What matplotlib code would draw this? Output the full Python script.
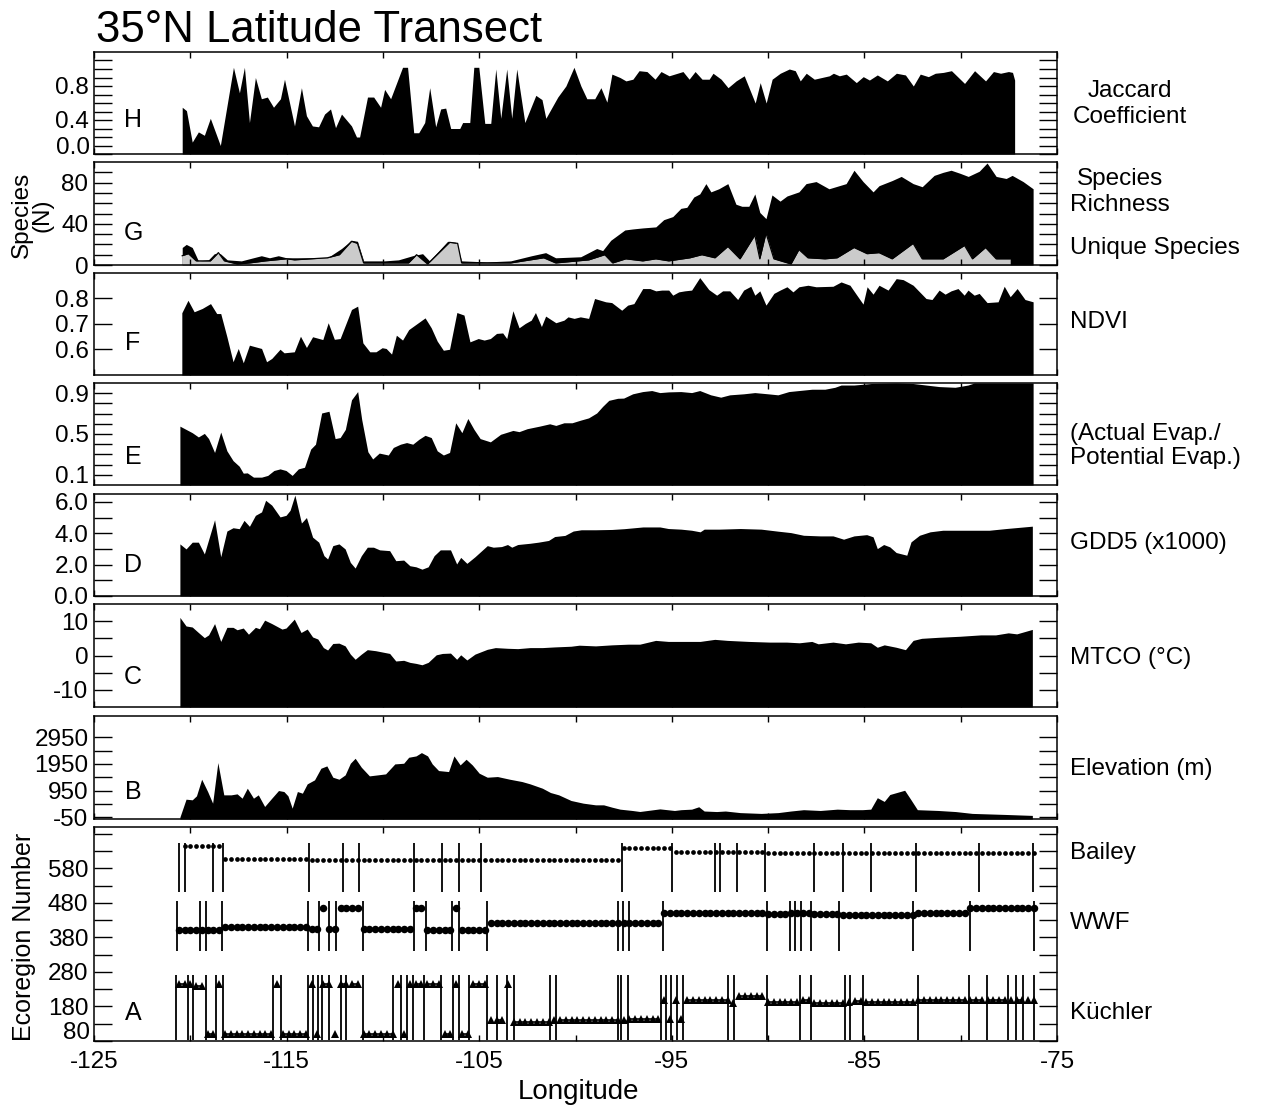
import numpy as np
import matplotlib
matplotlib.use("Agg")
import matplotlib.pyplot as plt
from matplotlib.ticker import FixedLocator, FormatStrFormatter, FuncFormatter
from matplotlib.transforms import blended_transform_factory, offset_copy

plt.rcParams["font.family"] = ["Liberation Sans", "DejaVu Sans"]
plt.rcParams["axes.unicode_minus"] = False

# ---------------- data ----------------
# H: Jaccard coefficient
H_LON = [-120.42, -120.2, -119.9, -119.58, -119.27, -118.96, -118.44, -117.76, -117.45, -117.19,
         -116.93, -116.62, -116.31, -116.0, -115.68, -115.32, -115.11, -114.59, -114.23, -113.97,
         -113.66, -113.34, -113.03, -112.72, -112.46, -112.15, -111.63, -111.37, -111.21, -110.8,
         -110.48, -110.12, -109.91, -109.6, -108.98, -108.72, -108.4, -108.14, -107.83, -107.57,
         -107.26, -107.0, -106.74, -106.48, -106.01, -105.86, -105.49, -105.28, -105.02, -104.71,
         -104.4, -104.14, -103.88, -103.57, -103.31, -103.05, -102.63, -102.06, -101.74, -101.54,
         -100.92, -100.5, -100.08, -99.72, -99.41, -99.0, -98.68, -98.37, -98.11, -97.69,
         -97.38, -97.02, -96.7, -96.29, -95.87, -95.56, -95.14, -94.42, -94.1, -93.79,
         -93.43, -93.06, -92.86, -92.44, -92.08, -91.66, -91.24, -90.67, -90.41, -90.1,
         -89.79, -89.37, -88.9, -88.59, -88.33, -88.02, -87.6, -86.82, -86.61, -86.3,
         -85.94, -85.42, -85.06, -84.74, -84.33, -83.81, -83.34, -82.87, -82.46, -82.1,
         -81.68, -81.32, -80.9, -80.48, -79.8, -79.28, -78.71, -78.3, -77.93, -77.52,
         -77.31, -77.2]
H_VAL = [0.55, 0.51, 0.14, 0.26, 0.22, 0.42, 0.10, 1.02, 0.72, 1.02,
         0.37, 0.90, 0.65, 0.67, 0.55, 0.65, 0.88, 0.33, 0.78, 0.45,
         0.33, 0.32, 0.47, 0.53, 0.31, 0.47, 0.33, 0.20, 0.20, 0.67,
         0.67, 0.55, 0.76, 0.65, 1.02, 1.02, 0.25, 0.25, 0.37, 0.78,
         0.32, 0.53, 0.54, 0.30, 0.30, 0.37, 0.37, 1.02, 1.02, 0.36,
         0.36, 1.00, 0.42, 1.00, 0.42, 1.00, 0.37, 0.69, 0.64, 0.42,
         0.67, 0.80, 1.02, 0.80, 0.65, 0.65, 0.78, 0.61, 0.94, 0.90,
         0.86, 0.88, 0.98, 0.97, 0.88, 0.97, 0.92, 0.97, 0.88, 0.97,
         0.88, 0.88, 0.95, 0.88, 0.78, 0.86, 0.92, 0.60, 0.84, 0.60,
         0.88, 0.95, 1.00, 0.98, 0.86, 0.95, 0.88, 0.92, 0.95, 0.92,
         0.94, 0.84, 0.91, 0.87, 0.93, 0.86, 0.95, 0.93, 0.80, 0.94,
         0.91, 0.95, 0.96, 0.98, 0.83, 0.98, 0.86, 0.97, 0.95, 0.97,
         0.96, 0.87]

# G: species richness (black) and unique species (grey)
RICH_LON = [-120.42, -120.21, -119.9, -119.58, -119.06, -118.75, -118.44, -118.08, -117.35, -116.73,
            -116.31, -115.89, -115.43, -115.01, -113.76, -112.88, -112.15, -111.63, -111.32, -111.0,
            -109.92, -109.19, -108.46, -107.94, -107.58, -106.64, -106.23, -105.91, -104.61, -103.37,
            -102.28, -101.55, -101.03, -99.73, -98.9, -98.59, -98.17, -97.44, -97.03, -96.51,
            -95.83, -95.42, -94.95, -94.53, -94.22, -93.86, -93.55, -93.23, -92.97, -92.56,
            -92.09, -91.67, -91.36, -91.0, -90.69, -90.43, -90.11, -89.8, -89.38, -89.02,
            -88.4, -88.03, -87.51, -86.84, -85.95, -85.54, -85.07, -84.55, -84.24, -83.56,
            -83.09, -82.47, -82.0, -81.38, -80.91, -80.5, -80.03, -79.61, -79.04, -78.63,
            -78.16, -77.64, -77.33, -76.76, -76.24]
RICH_VAL = [17, 20, 17, 4, 5, 11, 11, 5, 4, 7,
            9, 7, 9, 7, 7, 7, 16, 24, 23, 4,
            4, 5, 9, 11, 4, 23, 22, 4, 3, 4,
            9, 12, 7, 8, 16, 14, 24, 34, 35, 36,
            37, 44, 47, 55, 56, 66, 69, 79, 71, 74,
            79, 59, 57, 57, 69, 51, 45, 68, 62, 67,
            71, 79, 81, 74, 79, 92, 81, 71, 77, 82,
            86, 79, 76, 87, 90, 92, 89, 86, 91, 99,
            86, 84, 87, 81, 74]
UNIQ_LON = [-120.42, -120.1, -119.69, -118.96, -118.54, -118.23, -117.56, -116.93, -116.1, -115.01,
            -114.59, -112.88, -112.26, -111.63, -111.32, -111.0, -108.67, -108.25, -107.68, -106.54,
            -106.12, -105.91, -103.37, -101.65, -101.03, -99.31, -98.48, -98.07, -97.39, -96.51,
            -95.83, -95.16, -94.06, -93.44, -92.76, -92.09, -91.46, -90.69, -90.43, -90.11,
            -89.7, -88.81, -88.4, -87.93, -87.05, -86.42, -85.54, -84.86, -84.24, -83.56,
            -82.47, -82.0, -80.91, -79.8, -79.39, -78.71, -78.16, -77.43]
UNIQ_VAL = [9, 11, 4, 4, 12, 4, 1, 2, 4, 6,
            5, 7, 10, 23, 21, 2, 2, 10, 1, 22,
            21, 2, 2, 7, 2, 5, 10, 2, 6, 4,
            6, 4, 7, 10, 7, 18, 6, 29, 6, 31,
            6, 1, 15, 7, 6, 7, 17, 11, 12, 6,
            21, 6, 6, 19, 6, 17, 6, 6]

# F: NDVI
F_LON = [-120.44, -120.12, -119.8, -119.38, -118.95, -118.63, -118.42, -118.1, -117.78, -117.51,
         -117.25, -116.93, -116.3, -116.04, -115.77, -115.34, -115.13, -114.6, -114.28, -113.97,
         -113.65, -113.12, -112.84, -112.52, -112.22, -111.63, -111.31, -111.04, -110.68, -110.36,
         -110.04, -109.83, -109.55, -109.3, -108.98, -108.66, -107.81, -107.49, -107.18, -106.86,
         -106.54, -106.16, -105.79, -105.48, -105.05, -104.74, -104.42, -104.1, -103.78, -103.57,
         -103.25, -102.93, -102.61, -102.3, -102.08, -101.77, -101.55, -101.02, -100.6, -100.39,
         -100.07, -99.75, -99.32, -99.01, -98.43, -98.12, -97.6, -97.29, -96.97, -96.51,
         -96.14, -95.83, -95.52, -95.16, -94.95, -94.64, -94.33, -93.97, -93.55, -93.08,
         -92.67, -92.36, -91.99, -91.58, -91.27, -90.9, -90.69, -90.43, -90.11, -89.7,
         -89.38, -89.02, -88.71, -88.4, -87.93, -87.51, -86.63, -86.21, -85.75, -85.43,
         -85.07, -84.86, -84.55, -84.24, -83.77, -83.35, -82.99, -82.47, -81.8, -81.49,
         -81.12, -80.81, -80.5, -80.14, -79.82, -79.62, -79.3, -79.04, -78.63, -78.06,
         -77.74, -77.43, -77.07, -76.66, -76.24]
F_VAL = [0.744, 0.793, 0.748, 0.761, 0.78, 0.741, 0.741, 0.65, 0.552, 0.604,
         0.548, 0.617, 0.604, 0.552, 0.565, 0.601, 0.587, 0.591, 0.652, 0.608,
         0.65, 0.639, 0.705, 0.64, 0.643, 0.757, 0.77, 0.626, 0.591, 0.591,
         0.607, 0.604, 0.582, 0.656, 0.637, 0.678, 0.724, 0.685, 0.633, 0.597,
         0.601, 0.745, 0.735, 0.63, 0.643, 0.637, 0.643, 0.663, 0.665, 0.643,
         0.752, 0.685, 0.702, 0.715, 0.745, 0.69, 0.731, 0.705, 0.715, 0.728,
         0.722, 0.728, 0.722, 0.8, 0.787, 0.784, 0.754, 0.774, 0.78, 0.839,
         0.839, 0.83, 0.833, 0.833, 0.813, 0.826, 0.83, 0.833, 0.882, 0.835,
         0.813, 0.83, 0.83, 0.796, 0.833, 0.848, 0.813, 0.83, 0.774, 0.82,
         0.833, 0.846, 0.826, 0.846, 0.852, 0.846, 0.848, 0.865, 0.852, 0.817,
         0.778, 0.846, 0.817, 0.852, 0.833, 0.878, 0.874, 0.852, 0.8, 0.796,
         0.833, 0.817, 0.83, 0.839, 0.813, 0.833, 0.813, 0.82, 0.784, 0.787,
         0.848, 0.807, 0.839, 0.796, 0.787]

# E: actual / potential evapotranspiration
E_LON = [-120.54, -120.22, -119.9, -119.58, -119.27, -119.05, -118.74, -118.42, -118.1, -117.78,
         -117.46, -117.25, -117.04, -116.72, -116.3, -115.98, -115.66, -115.34, -115.03, -114.71,
         -114.39, -114.07, -113.75, -113.5, -113.18, -112.8, -112.48, -112.22, -111.95, -111.63,
         -111.31, -111.1, -110.78, -110.53, -110.19, -109.72, -109.46, -109.09, -108.77, -108.45,
         -108.13, -107.81, -107.49, -107.18, -106.86, -106.54, -106.22, -105.9, -105.59, -105.27,
         -104.95, -104.42, -103.89, -103.25, -102.93, -102.51, -101.87, -101.34, -101.02, -100.6,
         -100.18, -99.75, -99.32, -98.9, -98.59, -98.27, -97.81, -97.5, -97.03, -96.51,
         -96.04, -95.62, -95.16, -94.53, -93.97, -93.55, -92.98, -92.46, -91.99, -91.27,
         -90.69, -90.01, -89.49, -88.92, -88.4, -87.72, -87.05, -86.53, -86.21, -85.54,
         -84.65, -83.35, -82.47, -81.8, -81.12, -80.29, -79.62, -79.3, -76.24]
E_VAL = [0.577, 0.545, 0.513, 0.471, 0.506, 0.455, 0.319, 0.519, 0.335, 0.239,
         0.184, 0.116, 0.119, 0.077, 0.077, 0.094, 0.142, 0.158, 0.142, 0.094,
         0.158, 0.174, 0.352, 0.4, 0.706, 0.723, 0.455, 0.465, 0.545, 0.835,
         0.916, 0.642, 0.326, 0.255, 0.313, 0.294, 0.368, 0.4, 0.416, 0.4,
         0.448, 0.487, 0.465, 0.335, 0.294, 0.319, 0.61, 0.513, 0.652, 0.545,
         0.455, 0.423, 0.497, 0.535, 0.523, 0.552, 0.577, 0.6, 0.584, 0.61,
         0.61, 0.635, 0.658, 0.706, 0.771, 0.83, 0.85, 0.852, 0.894, 0.916,
         0.926, 0.906, 0.913, 0.916, 0.906, 0.926, 0.884, 0.861, 0.884, 0.894,
         0.906, 0.894, 0.884, 0.916, 0.926, 0.939, 0.939, 0.958, 0.98, 0.98,
         0.995, 1.0, 0.995, 0.98, 0.965, 0.958, 0.98, 1.0, 1.0]

# D: GDD5 (x1000)
D_LON = [-120.54, -120.22, -119.9, -119.58, -119.27, -118.74, -118.42, -118.1, -117.78, -117.46,
         -117.21, -116.93, -116.62, -116.3, -116.09, -115.77, -115.34, -115.03, -114.82, -114.57,
         -114.23, -113.97, -113.65, -113.33, -113.06, -112.87, -112.6, -112.28, -111.96, -111.69,
         -111.44, -111.12, -110.81, -110.49, -110.17, -109.65, -109.33, -108.92, -108.6, -108.28,
         -107.97, -107.65, -107.34, -107.02, -106.49, -106.17, -105.96, -105.64, -105.22, -104.58,
         -104.27, -103.84, -103.53, -103.31, -103.0, -102.36, -101.93, -101.4, -101.08, -100.55,
         -100.12, -99.7, -98.96, -98.11, -97.47, -96.5, -95.62, -95.18, -94.52, -93.97,
         -93.53, -93.32, -92.55, -91.45, -90.36, -89.48, -88.82, -88.16, -87.29, -86.63,
         -86.08, -85.54, -84.88, -84.55, -84.33, -84.0, -83.68, -83.35, -82.8, -82.58,
         -82.14, -81.59, -80.93, -80.05, -79.4, -78.52, -77.64, -77.09, -76.28]
D_VAL = [3.32, 3.0, 3.43, 3.43, 2.68, 4.86, 2.5, 4.14, 4.35, 4.29,
         4.82, 4.44, 5.14, 5.36, 6.1, 5.79, 5.04, 5.14, 5.46, 6.43,
         4.65, 5.0, 3.75, 3.43, 2.57, 2.36, 3.21, 3.32, 3.0, 2.14,
         1.78, 2.57, 3.11, 3.11, 2.94, 2.89, 2.25, 2.29, 1.93, 1.86,
         1.71, 1.86, 2.57, 2.94, 2.94, 2.04, 2.46, 2.08, 2.5, 3.21,
         3.11, 3.15, 3.28, 3.11, 3.28, 3.36, 3.43, 3.54, 3.79, 3.86,
         4.14, 4.22, 4.22, 4.24, 4.29, 4.4, 4.4, 4.3, 4.26, 4.19,
         4.09, 4.26, 4.26, 4.3, 4.26, 4.13, 4.04, 3.87, 3.83, 3.83,
         3.62, 3.83, 3.91, 3.77, 3.02, 3.28, 3.13, 2.77, 2.6, 3.45,
         3.87, 4.09, 4.19, 4.19, 4.19, 4.19, 4.3, 4.36, 4.45]

# C: MTCO (deg C)
C_LON = [-120.54, -120.22, -119.9, -119.58, -119.27, -119.05, -118.74, -118.42, -118.1, -117.78,
         -117.57, -117.25, -116.98, -116.62, -116.41, -116.14, -115.77, -115.24, -115.03, -114.6,
         -114.25, -113.93, -113.65, -113.38, -113.09, -112.87, -112.6, -112.28, -111.96, -111.69,
         -111.44, -111.12, -110.81, -110.38, -109.65, -109.33, -108.92, -108.6, -108.28, -107.97,
         -107.65, -107.23, -106.91, -106.49, -106.17, -105.96, -105.64, -105.22, -104.58, -104.16,
         -103.53, -103.0, -102.36, -101.72, -101.08, -100.23, -99.81, -98.96, -98.11, -97.26,
         -96.66, -95.84, -95.18, -94.3, -93.53, -92.77, -92.11, -91.01, -89.92, -89.04,
         -88.38, -87.73, -87.4, -86.63, -85.98, -85.32, -84.67, -84.33, -83.97, -83.35,
         -82.87, -82.47, -82.03, -81.16, -80.05, -78.96, -78.19, -77.53, -77.09, -76.28]
C_VAL = [11.1, 8.6, 8.3, 6.7, 5.2, 6.0, 9.3, 4.1, 8.2, 8.2,
         7.5, 8.0, 6.2, 8.2, 7.8, 10.3, 9.3, 7.7, 8.0, 10.6,
         6.7, 7.7, 5.4, 4.8, 2.3, 1.6, 3.5, 3.6, 2.8, 0.4,
         -1.1, 0.4, 1.7, 1.4, 0.6, -1.6, -1.4, -2.0, -2.3, -2.7,
         -2.0, 0.2, 0.6, 0.7, -1.1, 0.2, -1.3, 0.4, 1.8, 2.3,
         2.1, 2.0, 2.3, 2.3, 2.5, 2.7, 3.0, 2.8, 3.1, 3.3,
         3.3, 4.4, 4.1, 4.1, 4.1, 4.7, 4.4, 4.1, 3.9, 3.9,
         3.7, 4.1, 3.4, 3.9, 3.4, 3.9, 3.7, 2.4, 3.1, 2.4,
         1.7, 4.4, 5.0, 5.3, 5.6, 6.0, 6.0, 6.6, 6.3, 7.6]

# B: elevation (m)
B_LON = [-120.54, -120.22, -119.9, -119.68, -119.41, -119.1, -118.84, -118.57, -118.26, -117.88,
         -117.57, -117.31, -117.04, -116.72, -116.47, -116.14, -115.77, -115.42, -115.14, -114.93,
         -114.71, -114.44, -114.18, -113.93, -113.55, -113.22, -112.91, -112.6, -112.28, -111.96,
         -111.69, -111.44, -111.12, -110.7, -110.28, -109.86, -109.38, -108.92, -108.66, -108.28,
         -108.0, -107.68, -107.44, -107.11, -106.59, -106.31, -105.99, -105.68, -105.36, -105.0,
         -104.58, -104.05, -103.42, -102.78, -102.36, -101.72, -101.3, -100.87, -100.23, -99.6,
         -98.96, -98.54, -98.11, -97.69, -97.05, -96.66, -95.62, -94.86, -94.52, -93.97,
         -93.6, -93.32, -92.67, -92.22, -91.45, -90.36, -89.48, -88.82, -88.16, -87.29,
         -86.41, -85.76, -85.1, -84.67, -84.33, -83.97, -83.68, -82.91, -82.58, -82.25,
         -81.16, -80.27, -79.4, -78.52, -77.64, -76.28]
B_VAL = [-50, 625, 600, 750, 1375, 912, 475, 2000, 787, 787,
         825, 662, 1037, 662, 787, 350, 662, 950, 912, 750,
         287, 912, 850, 1200, 1350, 1787, 1875, 1450, 1375, 1537,
         1975, 2162, 1825, 1500, 1537, 1575, 1950, 1975, 2200, 2250,
         2375, 2250, 1950, 1700, 1662, 2250, 1912, 2125, 1912, 1600,
         1450, 1475, 1375, 1287, 1200, 1037, 875, 787, 575, 475,
         412, 412, 325, 250, 200, 162, 260, 200, 230, 250,
         340, 180, 160, 180, 120, 90, 120, 180, 230, 200,
         250, 230, 230, 250, 680, 540, 800, 960, 600, 230,
         200, 160, 90, 70, 50, 15]

# A: ecoregion numbers, piecewise constant (segment start longitude, code)
BAILEY_BOUNDS = [-120.57, -120.26, -118.82, -118.30, -113.85, -112.08, -111.25, -108.39, -106.95, -106.05,
                 -104.93, -97.56, -95.00, -92.74, -92.51, -91.63, -90.17, -87.61, -86.13, -84.66,
                 -82.32, -79.06, -76.25]
BAILEY_CODES = [645, 646, 645, 606, 603, 604, 603, 604, 603, 604,
                603, 640, 627, 628, 628, 627, 626, 624, 625, 626,
                625, 624, 625]
WWF_BOUNDS = [-120.69, -119.51, -119.20, -118.34, -113.88, -113.33, -112.81, -112.46, -111.02, -108.39,
              -107.78, -106.39, -106.05, -104.61, -97.79, -97.53, -97.22, -95.45, -90.04, -88.88,
              -88.62, -88.30, -87.78, -86.32, -82.47, -79.51, -76.22]
WWF_CODES = [401, 401, 402, 410, 405, 466, 404, 466, 404, 466,
             403, 466, 403, 422, 422, 422, 423, 452, 449, 450,
             451, 450, 448, 446, 451, 465, 464]
KUCH_BOUNDS = [-120.73, -120.10, -119.84, -119.17, -118.65, -118.31, -115.69, -115.30, -113.87, -113.62,
               -113.35, -113.14, -112.78, -112.20, -111.89, -111.02, -109.46, -109.05, -108.74, -108.42,
               -107.87, -106.97, -106.35, -106.05, -105.53, -104.61, -104.10, -103.54, -103.20, -101.33,
               -101.03, -97.79, -97.65, -97.30, -95.57, -95.31, -95.05, -94.74, -94.44, -92.07,
               -91.76, -90.06, -88.33, -87.78, -86.01, -85.73, -85.09, -82.20, -79.55, -78.63,
               -77.55, -77.12, -76.77, -76.20]
KUCH_CODES = [245, 245, 240, 100, 245, 100, 245, 100, 245, 100,
              245, 245, 100, 245, 245, 100, 245, 100, 245, 245,
              245, 100, 245, 100, 245, 140, 140, 245, 135, 140,
              140, 142, 142, 145, 200, 145, 200, 145, 200, 190,
              210, 192, 200, 190, 192, 195, 193, 200, 198, 198,
              200, 198, 200, 200]
ECO_STEP = 0.3          # sample spacing along the transect (deg)
ECO_FIRST = -120.6
ECO_LAST = -76.2

X_MAJOR = [-125, -115, -105, -95, -85, -75]
X_MINOR = [-120, -110, -100, -90, -80]

# ---------------- layout (pixel geometry of the reference) ----------------
W_PX, H_PX = 1261, 1107
X0, X1 = 94, 1057

fig = plt.figure(figsize=(W_PX / 100, H_PX / 100), dpi=100)


def fx(x):
    return x / W_PX


def fy(y):
    return 1 - y / H_PX


def panel(top, bottom):
    return fig.add_axes([fx(X0), fy(bottom), (X1 - X0) / W_PX, (bottom - top) / H_PX])


def style(ax, ylim, major, minor, fmt, last=False, lift=0):
    ax.set_xlim(-125, -75)
    ax.set_ylim(*ylim)
    ax.xaxis.set_major_locator(FixedLocator(X_MAJOR))
    ax.xaxis.set_minor_locator(FixedLocator(X_MINOR))
    ax.xaxis.set_major_formatter(FormatStrFormatter("%d"))
    ax.yaxis.set_major_locator(FixedLocator(major))
    ax.yaxis.set_minor_locator(FixedLocator(minor))
    if lift:
        # lowest label is nudged up off the frame corner, as in the original
        ax.yaxis.set_major_formatter(FuncFormatter(
            lambda v, p: "" if v == major[0] else fmt % v))
        tr = offset_copy(blended_transform_factory(ax.transAxes, ax.transData),
                         fig=fig, y=lift, units="points")
        ax.text(-0.0045, major[0], fmt % major[0], transform=tr, ha="right",
                va="center", fontsize=17.5)
    else:
        ax.yaxis.set_major_formatter(FormatStrFormatter(fmt))
    ax.tick_params(axis="y", which="both", direction="in", length=13, width=1.0,
                   left=True, right=True, labelsize=17.5, pad=4)
    ax.tick_params(axis="x", which="both", direction="in", length=4, width=1.0,
                   top=True, bottom=True, labelbottom=last, labelsize=17.5, pad=7)
    for s in ax.spines.values():
        s.set_linewidth(1.1)


# H
ax = panel(52, 154)
ax.fill_between(H_LON, 0, H_VAL, color="k", lw=0)
style(ax, (0, 1.2), [0.0, 0.4, 0.8], [0.1, 0.2, 0.3, 0.5, 0.6, 0.7, 0.9, 1.0, 1.1], "%.1f",
      lift=4.5)

# G
ax = panel(162, 265)
ax.fill_between(RICH_LON, 0, RICH_VAL, color="k", lw=0)
ax.fill_between(UNIQ_LON, 0, UNIQ_VAL, color="#cbcbcb", lw=0)
ax.plot(UNIQ_LON, UNIQ_VAL, color="k", lw=0.9)
style(ax, (0, 100), [0, 40, 80], [10, 20, 30, 50, 60, 70, 90], "%d")

# F
ax = panel(273, 375)
ax.fill_between(F_LON, 0.5, F_VAL, color="k", lw=0)
style(ax, (0.5, 0.9), [0.6, 0.7, 0.8], [], "%.1f")

# E
ax = panel(383, 485)
ax.fill_between(E_LON, 0, E_VAL, color="k", lw=0)
style(ax, (0, 1.0), [0.1, 0.5, 0.9], [0.2, 0.3, 0.4, 0.6, 0.7, 0.8], "%.1f")

# D
ax = panel(494, 596)
ax.fill_between(D_LON, 0, D_VAL, color="k", lw=0)
style(ax, (0, 6.5), [0, 2, 4, 6], [1, 3, 5], "%.1f")

# C
ax = panel(604, 707)
ax.fill_between(C_LON, -15, C_VAL, color="k", lw=0)
style(ax, (-15, 15), [-10, 0, 10], [-5, 5], "%d")

# B
ax = panel(716, 819)
ax.fill_between(B_LON, -120, B_VAL, color="k", lw=0)
style(ax, (-120, 3750), [-50, 950, 1950, 2950], [450, 1450, 2450], "%d")

# A: ecoregions
ax = panel(827, 1041)
eco_lon = np.arange(ECO_FIRST, ECO_LAST + 0.05, ECO_STEP)


def draw_eco(bounds, codes, span, marker, ms, lw):
    bounds = np.asarray(bounds)
    ax.vlines(bounds, span[0], span[1], color="k", lw=1.3)
    seg = np.searchsorted(bounds, eco_lon + 1e-6, side="right") - 1
    for i, code in enumerate(codes):
        pts = eco_lon[seg == i]
        if len(pts) == 0:
            continue
        ax.plot(pts, np.full(len(pts), code), color="k", marker=marker, ms=ms,
                lw=lw, ls="-" if lw > 0 else "none", mew=0)


draw_eco(BAILEY_BOUNDS, BAILEY_CODES, (511, 655), "o", 3.4, 0)
draw_eco(WWF_BOUNDS, WWF_CODES, (340, 487), "o", 5.4, 1.2)
draw_eco(KUCH_BOUNDS, KUCH_CODES, (82, 272), "^", 5.8, 1.2)
style(ax, (80, 700), [80, 180, 280, 380, 480, 580],
      [130, 230, 330, 430, 530, 630, 680], "%d", last=True, lift=6)

# ---------------- text ----------------
fig.text(fx(96), fy(42), "35°N Latitude Transect", fontsize=31.5, ha="left", va="baseline")

for letter, y in [("H", 120), ("G", 233), ("F", 343), ("E", 457),
                  ("D", 565), ("C", 677), ("B", 792), ("A", 1013)]:
    fig.text(fx(133), fy(y), letter, fontsize=18, ha="center", va="center")

fs = 17.5
fig.text(fx(1130), fy(104), "Jaccard\nCoefficient", fontsize=fs, ha="center", va="center",
         multialignment="center", linespacing=1.2)
fig.text(fx(1120), fy(192), "Species\nRichness", fontsize=fs, ha="center", va="center",
         multialignment="center", linespacing=1.2)
fig.text(fx(1070), fy(248), "Unique Species", fontsize=fs, ha="left", va="center")
fig.text(fx(1070), fy(322), "NDVI", fontsize=fs, ha="left", va="center")
fig.text(fx(1070), fy(446), "(Actual Evap./\nPotential Evap.)", fontsize=fs, ha="left",
         va="center", linespacing=1.15)
fig.text(fx(1070), fy(543), "GDD5 (x1000)", fontsize=fs, ha="left", va="center")
fig.text(fx(1070), fy(658), "MTCO (°C)", fontsize=fs, ha="left", va="center")
fig.text(fx(1070), fy(769), "Elevation (m)", fontsize=fs, ha="left", va="center")
fig.text(fx(1070), fy(853), "Bailey", fontsize=fs, ha="left", va="center")
fig.text(fx(1070), fy(923), "WWF", fontsize=fs, ha="left", va="center")
fig.text(fx(1070), fy(1013), "Küchler", fontsize=fs, ha="left", va="center")

fig.text(fx(32), fy(215), "Species\n(N)", fontsize=fs, rotation=90, ha="center", va="center",
         multialignment="center", linespacing=0.95)
fig.text(fx(24), fy(937), "Ecoregion Number", fontsize=18, rotation=90, ha="center", va="center")
fig.text(fx(578), fy(1092), "Longitude", fontsize=20, ha="center", va="center")

fig.savefig("out.png", dpi=100)
